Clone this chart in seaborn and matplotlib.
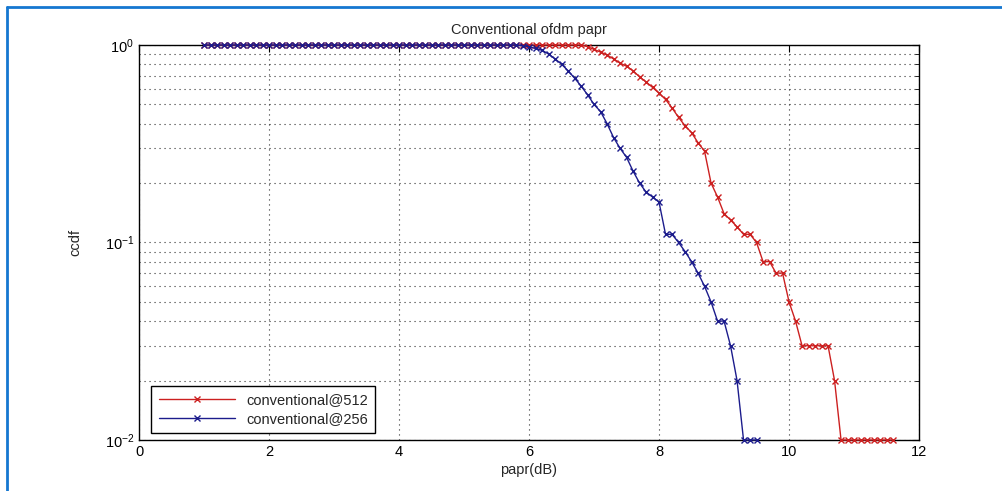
import matplotlib.pyplot as plt
import matplotlib.ticker as mticker
from matplotlib.lines import Line2D
import numpy as np
import pandas as pd
import seaborn as sns

# papr grid (dB) and ccdf values
papr_256 = [1.0, 1.1, 1.2, 1.3, 1.4, 1.5, 1.6, 1.7, 1.8, 1.9,
            2.0, 2.1, 2.2, 2.3, 2.4, 2.5, 2.6, 2.7, 2.8, 2.9,
            3.0, 3.1, 3.2, 3.3, 3.4, 3.5, 3.6, 3.7, 3.8, 3.9,
            4.0, 4.1, 4.2, 4.3, 4.4, 4.5, 4.6, 4.7, 4.8, 4.9,
            5.0, 5.1, 5.2, 5.3, 5.4, 5.5, 5.6, 5.7, 5.8, 5.9,
            6.0, 6.1, 6.2, 6.3, 6.4, 6.5, 6.6, 6.7, 6.8, 6.9,
            7.0, 7.1, 7.2, 7.3, 7.4, 7.5, 7.6, 7.7, 7.8, 7.9,
            8.0, 8.1, 8.2, 8.3, 8.4, 8.5, 8.6, 8.7, 8.8, 8.9,
            9.0, 9.1, 9.2, 9.3, 9.4, 9.5]
ccdf_256 = [1.0, 1.0, 1.0, 1.0, 1.0, 1.0, 1.0, 1.0, 1.0, 1.0,
            1.0, 1.0, 1.0, 1.0, 1.0, 1.0, 1.0, 1.0, 1.0, 1.0,
            1.0, 1.0, 1.0, 1.0, 1.0, 1.0, 1.0, 1.0, 1.0, 1.0,
            1.0, 1.0, 1.0, 1.0, 1.0, 1.0, 1.0, 1.0, 1.0, 1.0,
            1.0, 1.0, 1.0, 1.0, 1.0, 1.0, 1.0, 1.0, 1.0, 0.99,
            0.98, 0.96, 0.94, 0.90, 0.85, 0.80, 0.74, 0.68, 0.62, 0.56,
            0.50, 0.46, 0.40, 0.34, 0.30, 0.27, 0.23, 0.20, 0.18, 0.17,
            0.16, 0.11, 0.11, 0.10, 0.09, 0.08, 0.07, 0.06, 0.05, 0.04,
            0.04, 0.03, 0.02, 0.01, 0.01, 0.01]

papr_512 = [1.0, 1.1, 1.2, 1.3, 1.4, 1.5, 1.6, 1.7, 1.8, 1.9,
            2.0, 2.1, 2.2, 2.3, 2.4, 2.5, 2.6, 2.7, 2.8, 2.9,
            3.0, 3.1, 3.2, 3.3, 3.4, 3.5, 3.6, 3.7, 3.8, 3.9,
            4.0, 4.1, 4.2, 4.3, 4.4, 4.5, 4.6, 4.7, 4.8, 4.9,
            5.0, 5.1, 5.2, 5.3, 5.4, 5.5, 5.6, 5.7, 5.8, 5.9,
            6.0, 6.1, 6.2, 6.3, 6.4, 6.5, 6.6, 6.7, 6.8, 6.9,
            7.0, 7.1, 7.2, 7.3, 7.4, 7.5, 7.6, 7.7, 7.8, 7.9,
            8.0, 8.1, 8.2, 8.3, 8.4, 8.5, 8.6, 8.7, 8.8, 8.9,
            9.0, 9.1, 9.2, 9.3, 9.4, 9.5, 9.6, 9.7, 9.8, 9.9,
            10.0, 10.1, 10.2, 10.3, 10.4, 10.5, 10.6, 10.7, 10.8, 10.9,
            11.0, 11.1, 11.2, 11.3, 11.4, 11.5, 11.6]
ccdf_512 = [1.0, 1.0, 1.0, 1.0, 1.0, 1.0, 1.0, 1.0, 1.0, 1.0,
            1.0, 1.0, 1.0, 1.0, 1.0, 1.0, 1.0, 1.0, 1.0, 1.0,
            1.0, 1.0, 1.0, 1.0, 1.0, 1.0, 1.0, 1.0, 1.0, 1.0,
            1.0, 1.0, 1.0, 1.0, 1.0, 1.0, 1.0, 1.0, 1.0, 1.0,
            1.0, 1.0, 1.0, 1.0, 1.0, 1.0, 1.0, 1.0, 1.0, 1.0,
            1.0, 1.0, 1.0, 1.0, 1.0, 1.0, 1.0, 1.0, 1.0, 0.98,
            0.95, 0.92, 0.89, 0.85, 0.81, 0.78, 0.74, 0.69, 0.65, 0.61,
            0.57, 0.53, 0.48, 0.43, 0.39, 0.36, 0.32, 0.29, 0.20, 0.17,
            0.14, 0.13, 0.12, 0.11, 0.11, 0.10, 0.08, 0.08, 0.07, 0.07,
            0.05, 0.04, 0.03, 0.03, 0.03, 0.03, 0.03, 0.02, 0.01, 0.01,
            0.01, 0.01, 0.01, 0.01, 0.01, 0.01, 0.01]

series_names = ['conventional@512', 'conventional@256']
series_colors = ['#cc2020', '#1c1c8c']

df = pd.concat([
    pd.DataFrame({'papr': papr_512, 'ccdf': ccdf_512, 'series': series_names[0]}),
    pd.DataFrame({'papr': papr_256, 'ccdf': ccdf_256, 'series': series_names[1]}),
])

sns.set_style('white')
plt.rcParams['font.family'] = ['Liberation Sans', 'DejaVu Sans']
plt.rcParams['mathtext.fontset'] = 'custom'
plt.rcParams['mathtext.rm'] = 'Liberation Sans'

fig = plt.figure(figsize=(10.03, 4.91), dpi=100)
ax = fig.add_axes([0.1386, 0.1039, 0.7777, 0.8045])

for name, color in zip(series_names, series_colors):
    sns.lineplot(
        data=df[df['series'] == name], x='papr', y='ccdf',
        color=color, marker='x', markersize=4.5, markeredgewidth=1,
        markeredgecolor=color, markerfacecolor=color,
        linewidth=1, label=name, sort=False, estimator=None, ax=ax,
        zorder=3, clip_on=False,
    )

ax.set_yscale('log')
ax.set_xlim(0, 12)
ax.set_ylim(0.01, 1)
ax.set_xticks([0, 2, 4, 6, 8, 10, 12])
ax.xaxis.set_minor_locator(mticker.NullLocator())
ax.yaxis.set_minor_locator(mticker.LogLocator(base=10, subs=np.arange(2, 10)))
ax.yaxis.set_minor_formatter(mticker.NullFormatter())

# matlab-like box and grid
for side in ax.spines.values():
    side.set_visible(True)
    side.set_color('black')
    side.set_linewidth(1)
ax.tick_params(which='both', direction='in', top=True, right=True,
               labelsize=10.5, colors='black')
ax.tick_params(which='major', length=5)
ax.tick_params(which='minor', length=3)
ax.grid(True, which='major', axis='both', linestyle=(0, (1, 3.5)), color='#303030', linewidth=0.8)
ax.grid(True, which='minor', axis='y', linestyle=(0, (1, 3.5)), color='#303030', linewidth=0.8)

ax.set_title('Conventional ofdm papr', fontsize=10.5, pad=8)
ax.set_xlabel('papr(dB)', fontsize=10.5, labelpad=3)
ax.set_ylabel('ccdf', fontsize=10.5, labelpad=16)

ax.legend(loc='lower left', bbox_to_anchor=(0.016, 0.017), borderaxespad=0,
          fancybox=False, framealpha=1, edgecolor='black', fontsize=10.5,
          handlelength=5.2, borderpad=0.5, labelspacing=0.35)

# blue frame of the screenshot
fig.add_artist(Line2D([7 / 1003, 1], [1 - 7 / 491, 1 - 7 / 491],
                      transform=fig.transFigure, color='#1577d0', linewidth=2))
fig.add_artist(Line2D([7 / 1003, 7 / 1003], [0, 1 - 7 / 491],
                      transform=fig.transFigure, color='#1577d0', linewidth=2))

fig.savefig('out.png', dpi=100)
